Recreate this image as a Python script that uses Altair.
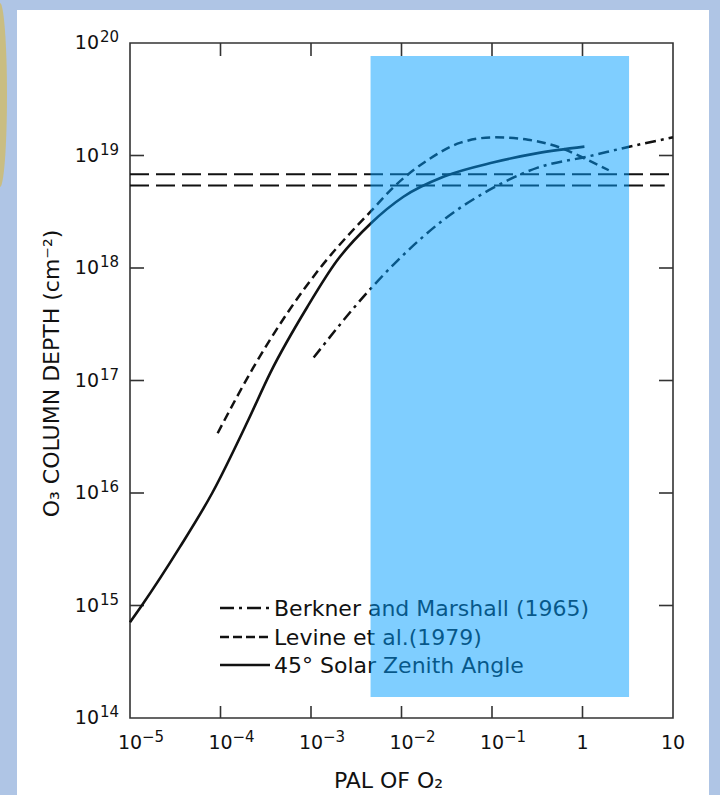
import altair as alt
import pandas as pd

# ---------------- data ----------------
x_tick_values = [1e-5, 1e-4, 1e-3, 1e-2, 1e-1, 1, 10]
x_label_base = ["10", "10", "10", "10", "10", "1", "10"]
x_label_exp = ["−5", "−4", "−3", "−2", "−1", "", ""]
y_tick_values = [1e14, 1e15, 1e16, 1e17, 1e18, 1e19, 1e20]
y_label_base = ["10", "10", "10", "10", "10", "10", "10"]
y_label_exp = ["14", "15", "16", "17", "18", "19", "20"]
x_inner_ticks = [1e-4, 1e-3, 1e-2, 1e-1, 1]
y_inner_ticks = [1e15, 1e16, 1e17, 1e18, 1e19]

# 45 deg solar zenith angle (solid)
solid_pal = [1.0e-5, 1.35e-5, 3.55e-5, 8.1e-5, 2.04e-4, 3.55e-4, 9.1e-4, 1.95e-3,
             4.6e-3, 1.05e-2, 2.95e-2, 0.105, 0.32, 1.05]
solid_o3 = [7.1e14, 1.0e15, 3.3e15, 1.0e16, 4.5e16, 1.17e17, 4.5e17, 1.17e18,
            2.5e18, 4.3e18, 6.5e18, 8.7e18, 1.05e19, 1.2e19]
# Levine et al. (1979) (dashed)
levine_pal = [9.3e-5, 2.3e-4, 5.5e-4, 1.26e-3, 2.95e-3, 4.6e-3, 8.1e-3, 1.95e-2,
              4.5e-2, 0.105, 0.25, 0.575, 1.15, 1.95]
levine_o3 = [3.4e16, 1.3e17, 4.0e17, 1.0e18, 2.2e18, 3.2e18, 5.2e18, 9.1e18,
             1.3e19, 1.45e19, 1.38e19, 1.17e19, 9.1e18, 7.4e18]
# Berkner and Marshall (1965) (dash-dot)
berkner_pal = [1.07e-3, 4.6e-3, 9.1e-3, 2.95e-2, 0.105, 0.32, 1.15, 3.2, 10]
berkner_o3 = [1.6e17, 6.6e17, 1.17e18, 2.7e18, 5.2e18, 7.8e18, 9.8e18, 1.19e19, 1.45e19]

# horizontal long-dashed reference levels
ref_levels = [6.8e18, 5.4e18]
ref_start = [1e-5, 1e-5]
ref_end = [10, 8.1]

legend_labels = ["Berkner and Marshall (1965)", "Levine et al.(1979)", "45° Solar Zenith Angle"]

# translucent highlight box
highlight_pal = [4.55e-3, 3.27]
highlight_o3 = [1.54e14, 7.66e19]

# ---------------- styling ----------------
W, H = 543, 675
FONT = "DejaVu Sans"
INK = "#111111"
FRAME = "#333333"
BORDER = "#afc5e5"
TAN = "#c9bd82"

xs = alt.Scale(type="log", domain=[1e-5, 10], nice=False)
ys = alt.Scale(type="log", domain=[1e14, 1e20], nice=False)

xaxis = alt.Axis(values=x_tick_values, labels=False, ticks=False, domain=False, grid=False,
                 title="PAL OF O₂", titleFont=FONT, titleFontSize=22, titleFontWeight="normal",
                 titleColor=INK, titleX=258, titleY=69, titleAlign="center", titleBaseline="alphabetic")
yaxis = alt.Axis(values=y_tick_values, labels=False, ticks=False, domain=False, grid=False,
                 title="O₃ COLUMN DEPTH (cm⁻²)", titleFont=FONT, titleFontSize=22,
                 titleFontWeight="normal", titleColor=INK, titleX=-79, titleY=330,
                 titleAngle=270, titleAlign="center", titleBaseline="middle")


def X(field):
    return alt.X(field, type="quantitative", scale=xs, axis=xaxis)


def Y(field):
    return alt.Y(field, type="quantitative", scale=ys, axis=yaxis)


one = pd.DataFrame({"k": [0]})
layers = []

solid = pd.DataFrame({"pal": solid_pal, "o3": solid_o3})
levine = pd.DataFrame({"pal": levine_pal, "o3": levine_o3})
berkner = pd.DataFrame({"pal": berkner_pal, "o3": berkner_o3})

curves = [
    alt.Chart(solid).mark_line(color=INK, strokeWidth=2.6, interpolate="monotone").encode(
        x=X("pal"), y=Y("o3")),
    alt.Chart(levine).mark_line(color=INK, strokeWidth=2.5, strokeDash=[9, 5],
                                interpolate="monotone").encode(x=X("pal"), y=Y("o3")),
    alt.Chart(berkner).mark_line(color=INK, strokeWidth=2.5, strokeDash=[11, 5, 3, 5],
                                 interpolate="monotone").encode(x=X("pal"), y=Y("o3")),
]

# page border strips (decoration)
for (x0, x1, y0, y1) in [(-130, 590, -43, -33), (-130, -113, -43, 752), (579, 590, -43, 752)]:
    layers.append(alt.Chart(one).mark_rect(color=BORDER).encode(
        x=alt.value(x0), x2=alt.value(x1), y=alt.value(y0), y2=alt.value(y1)))

ell = ("M0,-1C0.042,-1,0.076,-0.552,0.076,0C0.076,0.552,0.042,1,0,1"
       "C-0.042,1,-0.076,0.552,-0.076,0C-0.076,-0.552,-0.042,-1,0,-1Z")
layers.append(alt.Chart(one).mark_point(shape=ell, filled=True, color=TAN, opacity=1,
                                        size=184 * 184, strokeWidth=0).encode(
    x=alt.value(-130), y=alt.value(52)))

# inward ticks
tx = pd.DataFrame({"v": x_inner_ticks})
ty = pd.DataFrame({"v": y_inner_ticks})
tick = dict(color=FRAME, strokeWidth=1.6)
layers.append(alt.Chart(tx).mark_rule(**tick).encode(x=X("v"), y=alt.value(H), y2=alt.value(H - 12)))
layers.append(alt.Chart(tx).mark_rule(**tick).encode(x=X("v"), y=alt.value(0), y2=alt.value(13)))
layers.append(alt.Chart(ty).mark_rule(**tick).encode(y=Y("v"), x=alt.value(0), x2=alt.value(14)))
layers.append(alt.Chart(ty).mark_rule(**tick).encode(y=Y("v"), x=alt.value(W), x2=alt.value(W - 14)))

# tick labels: base and raised exponent
xl = pd.DataFrame({"v": x_tick_values, "base": x_label_base, "exp": x_label_exp})
yl = pd.DataFrame({"v": y_tick_values, "base": y_label_base, "exp": y_label_exp})
layers.append(alt.Chart(xl).mark_text(font=FONT, fontSize=19, color=INK, align="center",
                                      baseline="alphabetic").encode(
    x=X("v"), y=alt.value(H + 31), text="base:N"))
layers.append(alt.Chart(xl).mark_text(font=FONT, fontSize=15, color=INK, align="left",
                                      baseline="alphabetic", dx=12).encode(
    x=X("v"), y=alt.value(H + 24), text="exp:N"))
layers.append(alt.Chart(yl).mark_text(font=FONT, fontSize=19, color=INK, align="right",
                                      baseline="middle").encode(
    y=Y("v"), x=alt.value(-31), text="base:N"))
layers.append(alt.Chart(yl).mark_text(font=FONT, fontSize=15, color=INK, align="left",
                                      baseline="middle", dy=-6).encode(
    y=Y("v"), x=alt.value(-30), text="exp:N"))

# reference horizontal lines
refs = pd.DataFrame({"level": ref_levels, "start": ref_start, "end": ref_end})
layers.append(alt.Chart(refs).mark_rule(color=INK, strokeWidth=2, strokeDash=[19, 7]).encode(
    x=X("start"), x2="end", y=Y("level")))

layers += curves

# legend (drawn by hand, as in the original figure)
legend_dash = [[14, 5, 3, 5], [9, 4], [1, 0]]
legend_rows = [565, 594, 622]
for lab, dash, ry in zip(legend_labels, legend_dash, legend_rows):
    layers.append(alt.Chart(one).mark_rule(color=INK, strokeWidth=2.4, strokeDash=dash).encode(
        x=alt.value(90), x2=alt.value(140), y=alt.value(ry)))
    layers.append(alt.Chart(one).mark_text(text=lab, align="left", baseline="middle", font=FONT,
                                           fontSize=22, color=INK).encode(
        x=alt.value(144), y=alt.value(ry + 1)))

# translucent highlight
hl = pd.DataFrame({"x0": [highlight_pal[0]], "x1": [highlight_pal[1]],
                   "y0": [highlight_o3[0]], "y1": [highlight_o3[1]]})
layers.append(alt.Chart(hl).mark_rect(color="#009dff", opacity=0.5).encode(
    x=X("x0"), x2="x1", y=Y("y0"), y2="y1"))

chart = alt.layer(*layers).properties(
    width=W, height=H,
    padding={"left": 130, "top": 43, "right": 47, "bottom": 77},
    autosize=alt.AutoSizeParams(type="none"),
    background="white",
).configure_view(stroke=FRAME, strokeWidth=1.6)

chart.save("out.html", embed_options={"renderer": "svg", "actions": False})
